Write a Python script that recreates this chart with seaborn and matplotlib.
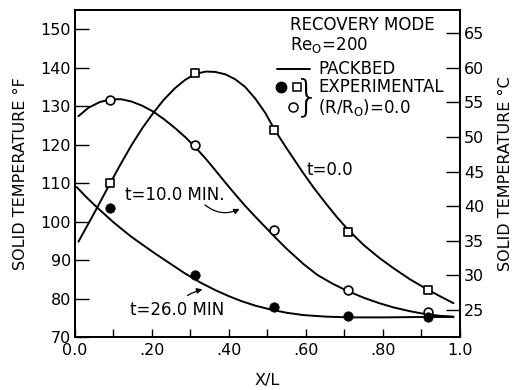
import matplotlib
matplotlib.use("Agg")
import matplotlib.pyplot as plt
from matplotlib.lines import Line2D
import pandas as pd
import seaborn as sns

# Measurement stations along the bed (X/L)
x_exp = [0.091, 0.311, 0.517, 0.710, 0.918]
# Experimental solid temperatures at R/R0 = 0.0 (deg F)
temp_t0_exp = [109.9, 138.5, 123.8, 97.4, 82.2]
temp_t10_exp = [131.7, 119.9, 97.8, 82.2, 76.6]
temp_t26_exp = [103.6, 86.1, 77.9, 75.5, 75.1]

# Packed-bed model curves
x_t0 = [0.009, 0.052, 0.091, 0.12, 0.147, 0.175, 0.203, 0.23, 0.26, 0.287,
        0.313, 0.34, 0.364, 0.39, 0.416, 0.442, 0.468, 0.494, 0.519, 0.55,
        0.593, 0.62, 0.654, 0.68, 0.71, 0.75, 0.79, 0.827, 0.87, 0.918,
        0.95, 0.983]
temp_t0 = [94.8, 102.6, 109.9, 115.2, 119.9, 124.3, 128.2, 131.6, 134.7, 136.9,
           138.4, 139.0, 138.9, 138.3, 137.0, 135.0, 132.0, 128.3, 123.8, 119.0,
           112.6, 108.8, 104.4, 101.2, 97.8, 93.9, 90.6, 87.9, 85.0, 82.2,
           80.5, 78.8]

x_t10 = [0.009, 0.035, 0.065, 0.095, 0.12, 0.147, 0.175, 0.203, 0.23, 0.26,
         0.287, 0.312, 0.34, 0.364, 0.39, 0.416, 0.442, 0.468, 0.494, 0.52,
         0.55, 0.593, 0.63, 0.67, 0.707, 0.75, 0.79, 0.827, 0.87, 0.913,
         0.95, 0.983]
temp_t10 = [127.4, 129.6, 131.1, 131.8, 131.8, 131.2, 130.1, 128.6, 126.7, 124.3,
            121.9, 119.4, 116.3, 113.4, 110.2, 107.1, 104.1, 101.3, 98.6, 95.9,
            92.9, 89.0, 86.1, 83.8, 82.0, 80.2, 78.8, 77.7, 76.7, 75.9,
            75.5, 75.3]

x_t26 = [0.004, 0.03, 0.056, 0.10, 0.147, 0.208, 0.25, 0.286, 0.325, 0.364,
         0.40, 0.433, 0.47, 0.51, 0.55, 0.593, 0.65, 0.71, 0.80, 0.90, 0.983]
temp_t26 = [109.0, 106.3, 103.8, 99.8, 96.0, 91.7, 88.9, 86.5, 84.2, 82.2,
            80.6, 79.3, 78.1, 77.1, 76.3, 75.7, 75.3, 75.1, 75.1, 75.2, 75.2]

x_ticks = [0.0, 0.2, 0.4, 0.6, 0.8, 1.0]
x_ticklabels = ["0.0", ".20", ".40", ".60", ".80", "1.0"]
f_ticks = [70, 80, 90, 100, 110, 120, 130, 140, 150]
c_ticks = [25, 30, 35, 40, 45, 50, 55, 60, 65]

sns.set_style("ticks")
plt.rcParams["font.family"] = ["DejaVu Sans"]
for key in ("text.color", "axes.labelcolor", "xtick.color", "ytick.color",
            "axes.edgecolor"):
    plt.rcParams[key] = "black"

TXT = 12
TICK = 11.5

curves = pd.concat([
    pd.DataFrame({"x": x_t0, "T": temp_t0, "run": "t0"}),
    pd.DataFrame({"x": x_t10, "T": temp_t10, "run": "t10"}),
    pd.DataFrame({"x": x_t26, "T": temp_t26, "run": "t26"}),
])

fig = plt.figure(figsize=(5.23, 3.90), dpi=100)
ax = fig.add_axes([0.1434, 0.1359, 0.7361, 0.8385])

sns.lineplot(data=curves, x="x", y="T", units="run", estimator=None,
             color="black", lw=1.4, ax=ax, sort=False)

sns.scatterplot(x=x_exp, y=temp_t0_exp, marker="s", s=34, facecolor="white",
                edgecolor="black", linewidth=1.2, ax=ax, zorder=4)
sns.scatterplot(x=x_exp, y=temp_t10_exp, marker="o", s=40, facecolor="white",
                edgecolor="black", linewidth=1.2, ax=ax, zorder=4)
sns.scatterplot(x=x_exp, y=temp_t26_exp, marker="o", s=46, color="black",
                edgecolor="black", linewidth=0.5, ax=ax, zorder=4)

ax.set_xlim(0, 1.0)
ax.set_ylim(70, 155)
ax.set_xticks(x_ticks)
ax.set_xticklabels(x_ticklabels)
ax.set_xticks([0.1, 0.3, 0.5, 0.7, 0.9], minor=True)
ax.set_yticks(f_ticks)
ax.tick_params(axis="x", which="both", direction="in", length=6, width=1.0,
               labelsize=TICK, pad=4)
ax.tick_params(axis="y", direction="in", length=10, width=1.0, labelsize=TICK, pad=3)
ax.set_xlabel("X/L", fontsize=TICK, labelpad=11)
ax.set_ylabel("SOLID TEMPERATURE °F", fontsize=TICK, labelpad=9)
for s in ax.spines.values():
    s.set_linewidth(1.3)

# Celsius scale on the right
axr = ax.twinx()
axr.set_ylim((70 - 32) * 5 / 9, (155 - 32) * 5 / 9)
axr.set_yticks(c_ticks)
axr.tick_params(axis="y", direction="in", length=10, width=1.0, labelsize=TICK, pad=3)
axr.set_ylabel("SOLID TEMPERATURE °C", fontsize=TICK, labelpad=10, rotation=90)
for s in axr.spines.values():
    s.set_linewidth(1.3)

# Curve labels
ax.text(0.13, 106.9, "t=10.0 MIN.", fontsize=TXT, va="center", ha="left")
ax.annotate("", xy=(0.434, 103.6), xytext=(0.332, 104.8),
            arrowprops=dict(arrowstyle="-|>", color="black", lw=0.9,
                            connectionstyle="arc3,rad=0.35", mutation_scale=8))
ax.text(0.602, 113.4, "t=0.0", fontsize=TXT, va="center", ha="left")
ax.text(0.143, 77.0, "t=26.0 MIN", fontsize=TXT, va="center", ha="left")
ax.annotate("", xy=(0.338, 82.5), xytext=(0.286, 80.4),
            arrowprops=dict(arrowstyle="-|>", color="black", lw=0.9,
                            connectionstyle="arc3,rad=-0.1", mutation_scale=8))

# Key
tr = ax.transAxes
ax.text(0.558, 0.954, "RECOVERY MODE", transform=tr, fontsize=TXT, va="center")
ax.text(0.558, 0.893, r"Re$_\mathregular{O}$=200", transform=tr, fontsize=TXT, va="center")
ax.add_line(Line2D([0.525, 0.610], [0.820, 0.820], transform=tr, color="black", lw=1.4))
ax.text(0.631, 0.820, "PACKBED", transform=tr, fontsize=TXT, va="center")
ax.add_line(Line2D([0.535], [0.765], transform=tr, marker="o", ms=7.5, color="black", ls=""))
ax.add_line(Line2D([0.577], [0.765], transform=tr, marker="s", ms=6.0, mfc="white",
                   mec="black", mew=1.1, ls=""))
ax.add_line(Line2D([0.566], [0.703], transform=tr, marker="o", ms=6.5, mfc="white",
                   mec="black", mew=1.1, ls=""))
ax.text(0.603, 0.732, "}", transform=tr, fontsize=30, va="center", ha="center",
        fontweight="light")
ax.text(0.631, 0.765, "EXPERIMENTAL", transform=tr, fontsize=TXT, va="center")
ax.text(0.631, 0.703, r"(R/R$_\mathregular{O}$)=0.0", transform=tr, fontsize=TXT, va="center")

fig.savefig("out.png", dpi=100)
